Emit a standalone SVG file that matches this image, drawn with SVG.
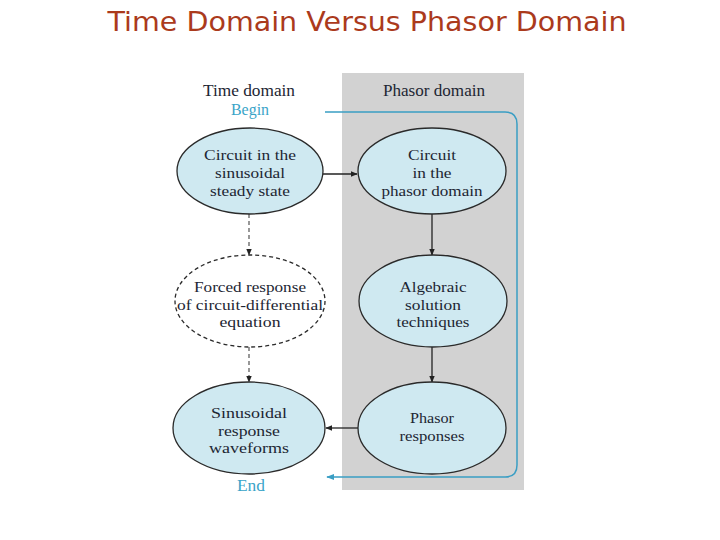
<svg xmlns="http://www.w3.org/2000/svg" width="720" height="540" viewBox="0 0 720 540">
<defs>
<marker id="ah" viewBox="0 0 10 10" refX="9" refY="5" markerWidth="7" markerHeight="7" markerUnits="userSpaceOnUse" orient="auto"><path d="M0,1 L10,5 L0,9 z" fill="#222"/></marker>
<marker id="ahb" viewBox="0 0 10 10" refX="9" refY="5" markerWidth="8" markerHeight="8" markerUnits="userSpaceOnUse" orient="auto"><path d="M0,1 L10,5 L0,9 z" fill="#3a9ec4"/></marker>
<style>
.t{font-family:"Liberation Serif","Times New Roman",serif;font-size:15.5px;fill:#1d2633;text-anchor:middle}
.h{font-family:"Liberation Serif","Times New Roman",serif;font-size:16px;fill:#1d2633;text-anchor:middle}
.b{font-family:"Liberation Serif","Times New Roman",serif;font-size:16px;fill:#3aa4c8;text-anchor:middle}
.n{fill:#cfe9f1;stroke:#2a2a2a;stroke-width:1.3}
.d{fill:none;stroke:#2a2a2a;stroke-width:1.3;stroke-dasharray:4,3}
.c{stroke:#222;stroke-width:1.3;fill:none}
.cd{stroke:#444;stroke-width:1.1;fill:none;stroke-dasharray:4,3}
</style>
</defs>
<rect width="720" height="540" fill="#fff"/>
<text x="367" y="31" font-family="'DejaVu Sans',sans-serif" font-size="27" fill="#ab3a1c" textLength="519" lengthAdjust="spacingAndGlyphs" text-anchor="middle">Time Domain Versus Phasor Domain</text>
<rect x="342" y="73" width="182" height="417" fill="#d2d2d2"/>
<text class="h" x="249" y="96" textLength="92" lengthAdjust="spacingAndGlyphs">Time domain</text>
<text class="h" x="434" y="96" textLength="102" lengthAdjust="spacingAndGlyphs">Phasor domain</text>
<text class="b" x="250" y="115" textLength="38" lengthAdjust="spacingAndGlyphs">Begin</text>
<text class="b" x="251" y="491" textLength="28" lengthAdjust="spacingAndGlyphs">End</text>
<g id="connectors">
<path d="M325,112 H505 Q517,112 517,124 V465 Q517,477 505,477 H327" fill="none" stroke="#3a9ec4" stroke-width="1.5" marker-end="url(#ahb)"/>
<path class="c" d="M323,174 H357" marker-end="url(#ah)"/>
<path class="c" d="M432,214 V255" marker-end="url(#ah)"/>
<path class="c" d="M432,347 V382" marker-end="url(#ah)"/>
<path class="c" d="M358,428 H326" marker-end="url(#ah)"/>
<path class="cd" d="M249,214 V255" marker-end="url(#ah)"/>
<path class="cd" d="M249,347 V382" marker-end="url(#ah)"/>
</g>
<g id="n1"><ellipse class="n" cx="250" cy="171" rx="73" ry="43"/>
<text class="t" x="250" y="160" textLength="92" lengthAdjust="spacingAndGlyphs">Circuit in the</text><text class="t" x="250" y="178" textLength="70" lengthAdjust="spacingAndGlyphs">sinusoidal</text><text class="t" x="250" y="196" textLength="80" lengthAdjust="spacingAndGlyphs">steady state</text></g>
<g id="n2"><ellipse class="n" cx="432" cy="171" rx="74" ry="43"/>
<text class="t" x="432" y="160" textLength="48" lengthAdjust="spacingAndGlyphs">Circuit</text><text class="t" x="432" y="178" textLength="39" lengthAdjust="spacingAndGlyphs">in the</text><text class="t" x="432" y="196" textLength="101" lengthAdjust="spacingAndGlyphs">phasor domain</text></g>
<g id="n3"><ellipse class="d" cx="250" cy="301" rx="75" ry="46"/>
<text class="t" x="250" y="292" textLength="112" lengthAdjust="spacingAndGlyphs">Forced response</text><text class="t" x="250" y="309.5" textLength="146" lengthAdjust="spacingAndGlyphs">of circuit-differential</text><text class="t" x="250" y="327" textLength="61" lengthAdjust="spacingAndGlyphs">equation</text></g>
<g id="n4"><ellipse class="n" cx="433" cy="301" rx="74" ry="46"/>
<text class="t" x="433" y="292" textLength="67" lengthAdjust="spacingAndGlyphs">Algebraic</text><text class="t" x="433" y="309.5" textLength="56" lengthAdjust="spacingAndGlyphs">solution</text><text class="t" x="433" y="327" textLength="73" lengthAdjust="spacingAndGlyphs">techniques</text></g>
<g id="n5"><ellipse class="n" cx="249" cy="428" rx="76" ry="46"/>
<text class="t" x="249" y="418" textLength="76" lengthAdjust="spacingAndGlyphs">Sinusoidal</text><text class="t" x="249" y="435.5" textLength="62" lengthAdjust="spacingAndGlyphs">response</text><text class="t" x="249" y="453" textLength="80" lengthAdjust="spacingAndGlyphs">waveforms</text></g>
<g id="n6"><ellipse class="n" cx="432" cy="428" rx="74" ry="46"/>
<text class="t" x="432" y="423" textLength="44" lengthAdjust="spacingAndGlyphs">Phasor</text><text class="t" x="432" y="441" textLength="65" lengthAdjust="spacingAndGlyphs">responses</text></g>
</svg>
